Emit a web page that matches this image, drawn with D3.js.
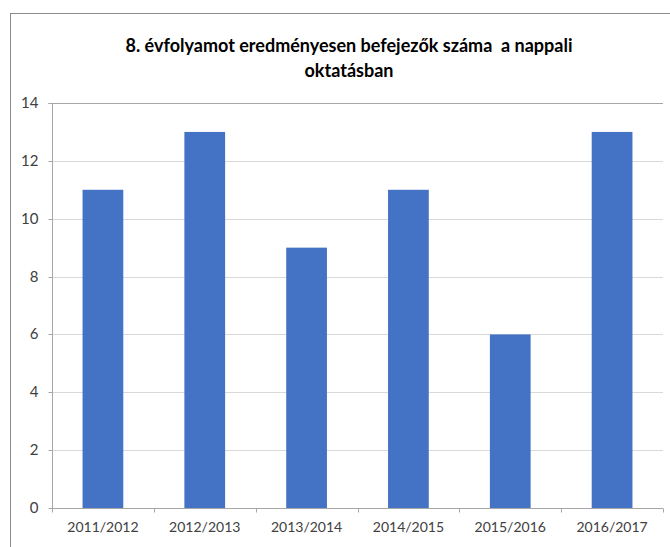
<!DOCTYPE html>
<html><head><meta charset="utf-8">
<script src="https://cdn.jsdelivr.net/npm/d3@7"></script>
<style>body{margin:0;background:#fff}svg{display:block}</style>
</head><body>
<script>
const categories = ["2011/2012","2012/2013","2013/2014","2014/2015","2015/2016","2016/2017"];
const values = [11,13,9,11,6,13];
const yTicks = [0,2,4,6,8,10,12,14];
const titleLines = ["8. évfolyamot eredményesen befejezők száma  a nappali","oktatásban"];

const W = 670, H = 547;
const svg = d3.select("body").append("svg").attr("width",W).attr("height",H);
const font = "Lato, 'Open Sans', sans-serif";

// outer chart border
svg.append("rect").attr("x",10.5).attr("y",13.5).attr("width",W+20).attr("height",H+20)
  .attr("fill","none").attr("stroke","#8c8c8c").attr("stroke-width",1);

const m = {left:52, right:663, top:103, bottom:508};
const x = d3.scaleBand().domain(categories).range([m.left,m.right]).paddingInner(0.6).paddingOuter(0.3);
const y = d3.scaleLinear().domain([0,14]).range([m.bottom,m.top]);

// gridlines
svg.append("g").selectAll("line").data(yTicks.filter(d=>d>0)).join("line")
  .attr("x1",m.left).attr("x2",m.right)
  .attr("y1",d=>Math.round(y(d))+0.5).attr("y2",d=>Math.round(y(d))+0.5)
  .attr("stroke",d=>d===14?"#a6a6a6":"#d9d9d9").attr("stroke-width",1);

// bars
svg.append("g").selectAll("rect").data(values).join("rect")
  .attr("x",(d,i)=>x(categories[i])).attr("width",x.bandwidth())
  .attr("y",d=>y(d)).attr("height",d=>y(0)-y(d))
  .attr("fill","#4472C4");

// y axis
const yAxis = d3.axisLeft(y).tickValues(yTicks).tickSize(4).tickPadding(10);
const gy = svg.append("g").attr("transform",`translate(${m.left+0.5},0)`).call(yAxis);
gy.select(".domain").attr("stroke","#a6a6a6").attr("d",`M-4,${m.top+0.5}H0V${m.bottom+0.5}`);
gy.selectAll(".tick line").attr("stroke","#a6a6a6");
gy.selectAll(".tick").attr("transform",d=>`translate(0,${Math.round(y(d))+0.5})`);
gy.selectAll("text").attr("font-family",font).attr("font-size",15).attr("fill","#404040");

// x axis
const xAxis = d3.axisBottom(x).tickSize(0).tickPadding(14);
const gx = svg.append("g").attr("transform",`translate(0,${m.bottom+0.5})`).call(xAxis);
gx.select(".domain").attr("stroke","#a6a6a6").attr("d",`M${m.left},0H${m.right}`);
gx.selectAll("text").attr("font-family",font).attr("font-size",14).attr("fill","#404040");
// category separator ticks
const sepTicks = d3.range(categories.length+1).map(i=>m.left + i*(m.right-m.left)/categories.length);
gx.append("g").selectAll("line").data(sepTicks).join("line")
  .attr("x1",d=>Math.round(d)+0.5).attr("x2",d=>Math.round(d)+0.5)
  .attr("y1",0).attr("y2",4).attr("stroke","#a6a6a6");

// title
svg.append("g").selectAll("text").data(titleLines).join("text")
  .attr("x",349).attr("y",(d,i)=>52+i*25)
  .attr("text-anchor","middle").attr("font-family",font).attr("font-weight","bold")
  .attr("font-size",18).attr("fill","#000").style("white-space","pre")
  .text(d=>d);
</script>
</body></html>
